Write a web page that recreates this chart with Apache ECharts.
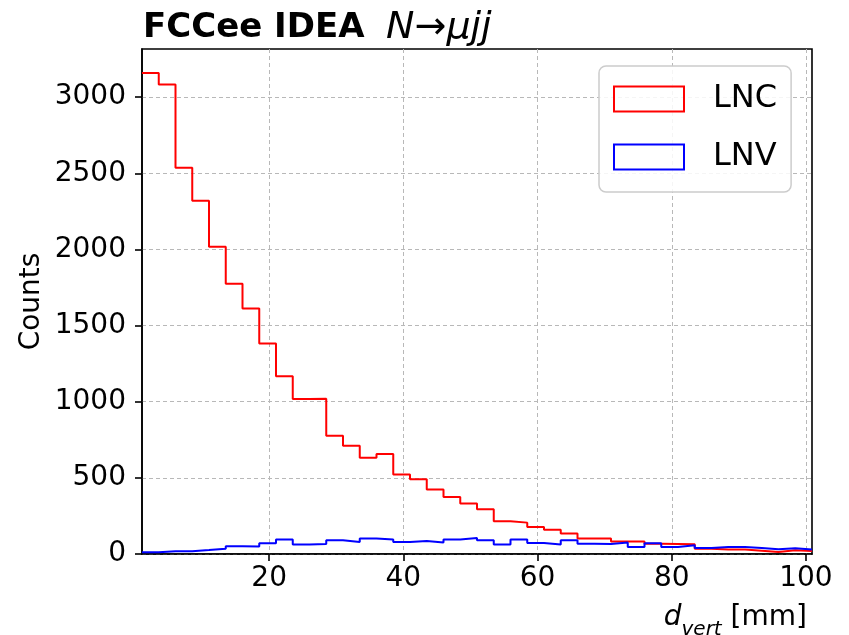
<!DOCTYPE html>
<html>
<head>
<meta charset="utf-8">
<script src="https://cdn.jsdelivr.net/npm/echarts@6/dist/echarts.min.js"></script>
<style>
  html, body { margin: 0; padding: 0; background: #ffffff; }
  #chart { width: 849px; height: 635px; }
</style>
</head>
<body>
<div id="chart"></div>
<script>
// Binning of the vertex displacement d_vert (mm): 40 equal-width bins
const binLow = 1.05;
const binHigh = 100.9;
const binCount = 40;

// Entries per bin, lepton-number conserving decays
const lncCounts = [
  3158, 3083, 2537, 2320, 2018, 1774, 1612, 1382, 1167, 1018,
  1020, 776, 711, 632, 656, 522, 491, 424, 375, 331,
  294, 215, 206, 178, 160, 134, 101, 101, 82, 82,
  68, 66, 64, 35, 29, 29, 22, 13, 24, 20
];

// Entries per bin, lepton-number violating decays
const lnvCounts = [
  11, 18, 18, 26, 35, 51, 49, 71, 95, 62,
  66, 90, 79, 102, 95, 79, 86, 75, 96, 105,
  90, 62, 95, 72, 62, 90, 68, 65, 75, 46,
  70, 46, 57, 40, 46, 46, 40, 31, 37, 29
];

const seriesNames = ['LNC', 'LNV'];
const seriesColors = ['#ff0000', '#0000ff'];

const xTickValues = [20, 40, 60, 80, 100];
const yTickValues = [0, 500, 1000, 1500, 2000, 2500, 3000];
const yTop = 3316;

const FONT = 'DejaVu Sans';

// Outline of a step histogram: each bin's left edge paired with its
// content, plus the right edge of the last bin.
function histOutline(counts) {
  const width = (binHigh - binLow) / binCount;
  const pts = counts.map((c, i) => [binLow + i * width, c]);
  pts.push([binHigh, counts[counts.length - 1]]);
  return pts;
}

const gridLine = { show: true, lineStyle: { color: '#b8b8b8', width: 1, type: [4, 3] } };

const chart = echarts.init(document.getElementById('chart'), null, { renderer: 'canvas' });

chart.setOption({
  animation: false,
  backgroundColor: '#ffffff',
  title: {
    left: 138,
    top: 4,
    text: '{b|FCCee IDEA}  {i|N→μjj}',
    textStyle: {
      fontFamily: FONT,
      fontSize: 34,
      fontWeight: 'normal',
      color: '#000',
      rich: {
        b: { fontFamily: FONT, fontWeight: 'bold', fontSize: 34, color: '#000' },
        i: { fontFamily: FONT, fontStyle: 'italic', fontWeight: 'normal', fontSize: 38, color: '#000' }
      }
    }
  },
  grid: {
    left: 142, top: 49, width: 670, height: 505,
    show: true, borderColor: '#000', borderWidth: 1.6,
    backgroundColor: 'transparent',
    outerBoundsMode: 'none'
  },
  legend: {
    orient: 'vertical',
    left: 599,
    top: 66,
    padding: [17, 14, 19, 14],
    itemWidth: 70,
    itemHeight: 25,
    itemGap: 26,
    backgroundColor: 'rgba(255,255,255,0.85)',
    borderColor: '#cccccc',
    borderWidth: 1.5,
    borderRadius: 7,
    textStyle: { fontFamily: FONT, fontSize: 32, color: '#000', padding: [0, 2, 0, 24] },
    data: seriesNames.map((name, i) => ({
      name: name,
      icon: 'rect',
      itemStyle: { color: 'transparent', borderColor: seriesColors[i], borderWidth: 2 }
    }))
  },
  xAxis: {
    type: 'value',
    min: binLow,
    max: binHigh,
    name: '{i|d}{s|vert}{n| [mm]}',
    nameLocation: 'end',
    nameGap: -5,
    nameMoveOverlap: false,
    nameTextStyle: {
      align: 'right',
      verticalAlign: 'top',
      padding: [44, 0, 0, 0],
      fontFamily: FONT,
      fontSize: 28,
      color: '#000',
      rich: {
        i: { fontFamily: FONT, fontStyle: 'italic', fontSize: 28, color: '#000', verticalAlign: 'bottom', lineHeight: 34 },
        s: { fontFamily: FONT, fontStyle: 'italic', fontSize: 20, color: '#000', verticalAlign: 'bottom', lineHeight: 34, padding: [0, 0, -8, 0] },
        n: { fontFamily: FONT, fontSize: 28, color: '#000', verticalAlign: 'bottom', lineHeight: 34 }
      }
    },
    axisLine: { show: true, onZero: false, lineStyle: { color: '#000', width: 1.6 } },
    axisTick: { show: true, inside: false, length: 7, customValues: xTickValues, lineStyle: { color: '#000', width: 1.6 } },
    axisLabel: { show: true, margin: 11, customValues: xTickValues, formatter: v => String(v), fontFamily: FONT, fontSize: 28, color: '#000' },
    splitLine: gridLine
  },
  yAxis: {
    type: 'value',
    min: 0,
    max: yTop,
    name: 'Counts',
    nameLocation: 'middle',
    nameGap: 96,
    nameMoveOverlap: false,
    nameTextStyle: { fontFamily: FONT, fontSize: 28, color: '#000' },
    axisLine: { show: true, onZero: false, lineStyle: { color: '#000', width: 1.6 } },
    axisTick: { show: true, inside: false, length: 7, customValues: yTickValues, lineStyle: { color: '#000', width: 1.6 } },
    axisLabel: { show: true, margin: 16, customValues: yTickValues, formatter: v => String(v), fontFamily: FONT, fontSize: 28, color: '#000' },
    splitLine: gridLine
  },
  series: [lncCounts, lnvCounts].map((counts, i) => ({
    name: seriesNames[i],
    type: 'line',
    step: 'end',
    data: histOutline(counts),
    showSymbol: false,
    symbol: 'none',
    clip: true,
    lineStyle: { color: seriesColors[i], width: 2 },
    itemStyle: { color: seriesColors[i] },
    emphasis: { disabled: true },
    z: 3 + i
  }))
});
</script>
</body>
</html>
